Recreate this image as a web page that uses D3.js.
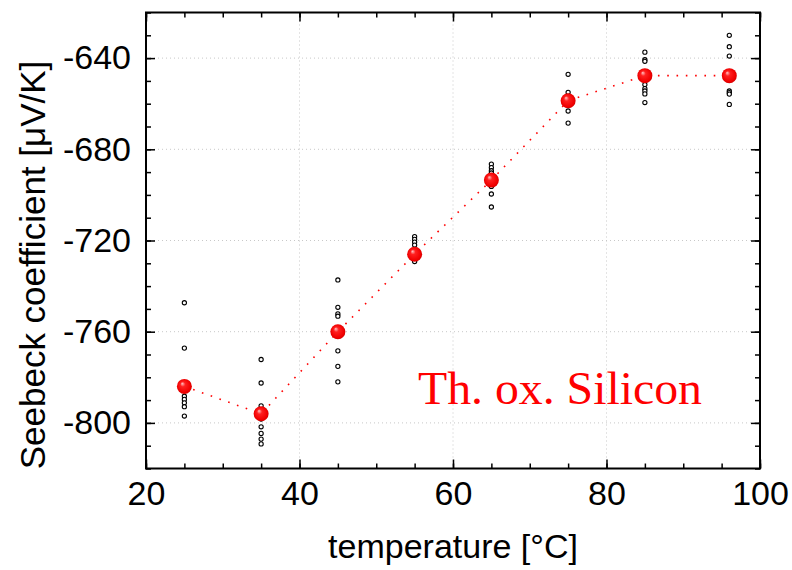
<!DOCTYPE html>
<html>

<head>
	<meta charset="utf-8">
	<script src="https://cdn.jsdelivr.net/npm/d3@7"></script>
	<style>
		body {
			margin: 0;
			background: white;
		}

		.tick text {
			font-family: "Liberation Sans", Arial, sans-serif;
		}
	</style>
</head>

<body>
	<svg></svg>
	<script>
		// temperatures of each measurement group
		var temps = [25, 35, 45, 55, 65, 75, 85, 96];
		// mean Seebeck coefficient per temperature
		var meanS = [-784, -796, -760, -726, -693.5, -658.7, -647.7, -647.7];
		// single measurements per temperature
		var rawS = [
			[-747.3, -767.2, -788.3, -789.7, -791.2, -792.9, -797.0],
			[-772.2, -782.5, -792.5, -798.3, -801.7, -804.6, -807.1, -809.2],
			[-737.3, -749.3, -752.2, -753.2, -768.4, -775.2, -782.0],
			[-718.3, -719.5, -720.7, -722.0, -729.2],
			[-686.5, -688.0, -689.4, -690.4, -696.3, -699.6, -705.3],
			[-647.1, -655.0, -663.2, -668.5],
			[-637.4, -640.7, -641.4, -651.6, -653.4, -654.4, -655.7, -659.5],
			[-630.0, -635.0, -639.1, -654.4, -655.1, -655.8, -660.3]
		];
		var xMajor = [20, 40, 60, 80, 100];
		var xMinor = d3.range(20, 101, 5);
		var yMajor = [-800, -760, -720, -680, -640];
		var yMinor = d3.range(-820, -619, 10);

		var width = 792;
		var height = 570;
		var margins = {
			"left": 146,
			"right": 32,
			"top": 12.5,
			"bottom": 101.5
		};
		var iw = width - margins.left - margins.right;
		var ih = height - margins.top - margins.bottom;

		var svg = d3.select("svg")
			.attr("width", width)
			.attr("height", height);

		var defs = svg.append("defs");
		var grad = defs.append("radialGradient")
			.attr("id", "ball")
			.attr("cx", "0.5").attr("cy", "0.5").attr("r", "0.55")
			.attr("fx", "0.35").attr("fy", "0.3");
		grad.append("stop").attr("offset", "0%").attr("stop-color", "#ffc8c8");
		grad.append("stop").attr("offset", "30%").attr("stop-color", "#ff2020");
		grad.append("stop").attr("offset", "80%").attr("stop-color", "#f00000");
		grad.append("stop").attr("offset", "100%").attr("stop-color", "#c80000");

		var x = d3.scaleLinear().domain([20, 100]).range([0, iw]);
		var y = d3.scaleLinear().domain([-820, -620]).range([ih, 0]);

		var g = svg.append("g")
			.attr("transform", "translate(" + margins.left + "," + margins.top + ")");

		// dotted grid
		g.append("g").selectAll("line")
			.data(xMajor.slice(1, -1))
			.enter().append("line")
			.attr("x1", d => x(d)).attr("x2", d => x(d))
			.attr("y1", 0).attr("y2", ih)
			.attr("stroke", "#c8c8c8").attr("stroke-dasharray", "1,3");
		g.append("g").selectAll("line")
			.data(yMajor)
			.enter().append("line")
			.attr("y1", d => y(d)).attr("y2", d => y(d))
			.attr("x1", 0).attr("x2", iw)
			.attr("stroke", "#c8c8c8").attr("stroke-dasharray", "1,3");

		// axes, ticks pointing inwards on all four sides
		function styleAxis(sel) {
			sel.selectAll(".domain").remove();
			sel.selectAll(".tick line").attr("stroke", "black").attr("stroke-width", 1.5);
		}
		var fmt = d => String(d);
		g.append("g").attr("transform", "translate(0," + ih + ")")
			.call(d3.axisBottom(x).tickValues(xMinor).tickSize(-5).tickFormat(""))
			.call(styleAxis);
		g.append("g").attr("transform", "translate(0," + ih + ")")
			.call(d3.axisBottom(x).tickValues(xMajor).tickSize(-9).tickPadding(12).tickFormat(fmt))
			.call(styleAxis)
			.selectAll("text").attr("font-size", 34).attr("fill", "black");
		g.append("g")
			.call(d3.axisTop(x).tickValues(xMinor).tickSize(-5).tickFormat(""))
			.call(styleAxis);
		g.append("g")
			.call(d3.axisTop(x).tickValues(xMajor).tickSize(-9).tickFormat(""))
			.call(styleAxis);
		g.append("g")
			.call(d3.axisLeft(y).tickValues(yMinor).tickSize(-5).tickFormat(""))
			.call(styleAxis);
		g.append("g")
			.call(d3.axisLeft(y).tickValues(yMajor).tickSize(-9).tickPadding(15).tickFormat(fmt))
			.call(styleAxis)
			.selectAll("text").attr("font-size", 34).attr("fill", "black");
		g.append("g").attr("transform", "translate(" + iw + ",0)")
			.call(d3.axisRight(y).tickValues(yMinor).tickSize(-5).tickFormat(""))
			.call(styleAxis);
		g.append("g").attr("transform", "translate(" + iw + ",0)")
			.call(d3.axisRight(y).tickValues(yMajor).tickSize(-9).tickFormat(""))
			.call(styleAxis);

		g.append("rect")
			.attr("width", iw).attr("height", ih)
			.attr("fill", "none").attr("stroke", "black").attr("stroke-width", 2);

		// dotted line through the means
		var pts = temps.map((t, i) => [t, meanS[i]]);
		var line = d3.line()
			.x(d => x(d[0]))
			.y(d => y(d[1]));
		g.append("path")
			.datum(pts)
			.attr("d", line)
			.attr("fill", "none")
			.attr("stroke", "red")
			.attr("stroke-width", 1.6)
			.attr("stroke-dasharray", "1.6,7.7");

		// single measurements
		var raw = [];
		temps.forEach((t, i) => rawS[i].forEach(v => raw.push([t, v])));
		g.append("g").selectAll("circle")
			.data(raw)
			.enter().append("circle")
			.attr("cx", d => x(d[0]))
			.attr("cy", d => y(d[1]))
			.attr("r", 2.1)
			.attr("fill", "white")
			.attr("stroke", "black")
			.attr("stroke-width", 1.1);

		// means
		g.append("g").selectAll("circle")
			.data(pts)
			.enter().append("circle")
			.attr("cx", d => x(d[0]))
			.attr("cy", d => y(d[1]))
			.attr("r", 7.5)
			.attr("fill", "url(#ball)");

		// labels
		svg.append("text")
			.attr("x", 418).attr("y", 404)
			.attr("font-family", "Liberation Serif, Times New Roman, serif")
			.attr("font-size", 47)
			.attr("fill", "red")
			.attr("textLength", 284)
			.attr("lengthAdjust", "spacingAndGlyphs")
			.text("Th. ox. Silicon");

		svg.append("text")
			.attr("x", margins.left + iw / 2).attr("y", 558)
			.attr("text-anchor", "middle")
			.attr("font-family", "Liberation Sans, Arial, sans-serif")
			.attr("font-size", 34)
			.text("temperature [°C]");

		svg.append("text")
			.attr("transform", "translate(45,265) rotate(-90)")
			.attr("text-anchor", "middle")
			.attr("font-family", "Liberation Sans, Arial, sans-serif")
			.attr("font-size", 35)
			.text("Seebeck coefficient [μV/K]");
	</script>
</body>

</html>
